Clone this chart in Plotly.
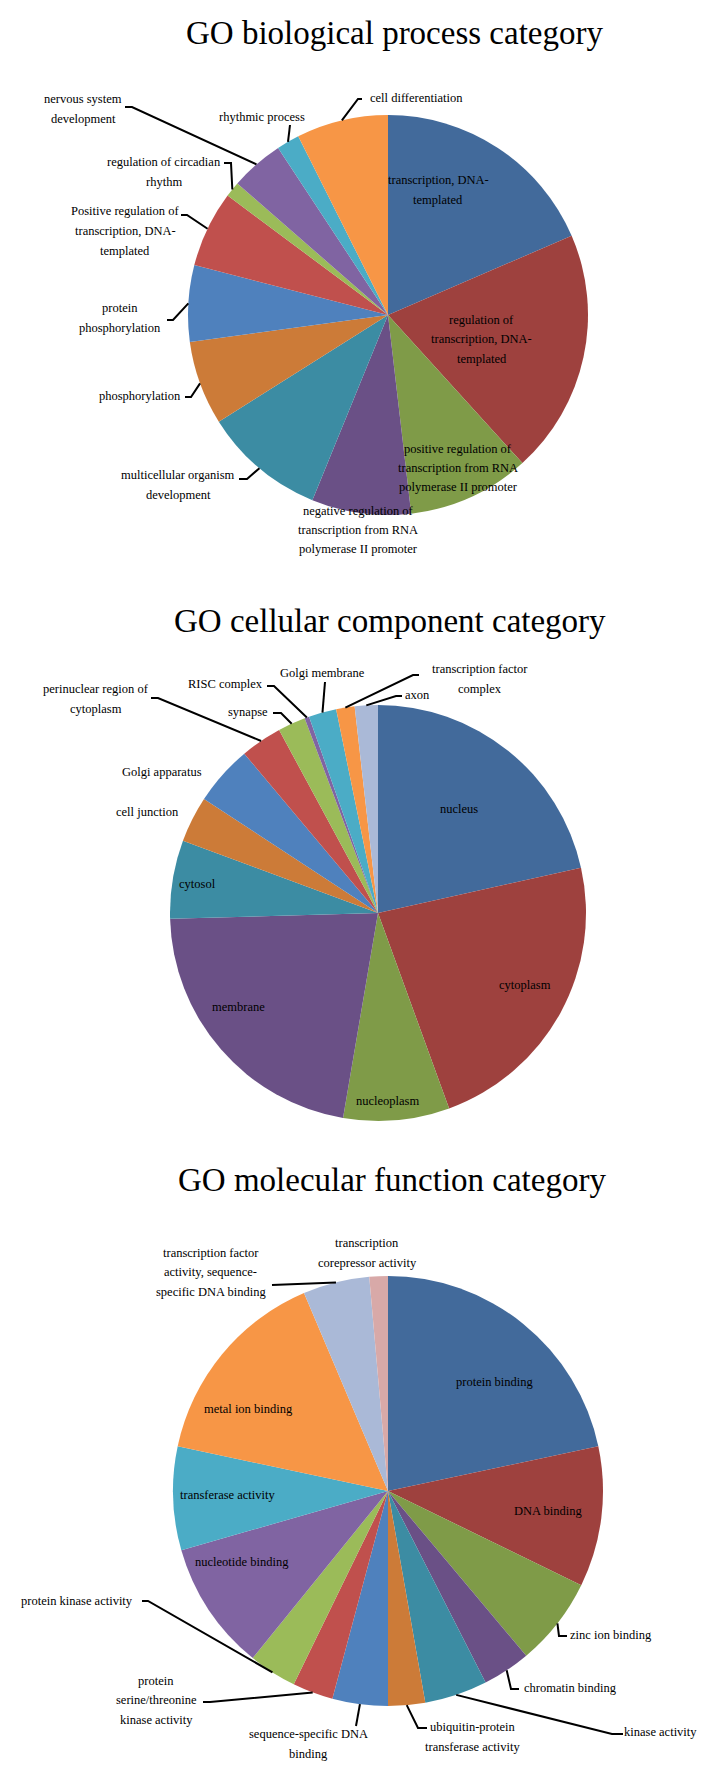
import math
import plotly.graph_objects as go

bp_labels = ["transcription, DNA-templated", "regulation of transcription, DNA-templated",
             "positive regulation of transcription from RNA polymerase II promoter",
             "negative regulation of transcription from RNA polymerase II promoter",
             "multicellular organism development", "phosphorylation", "protein phosphorylation",
             "Positive regulation of transcription, DNA-templated", "regulation of circadian rhythm",
             "nervous system development", "rhythmic process", "cell differentiation"]
bp_counts = [30, 32, 16, 13, 16, 11, 10, 10, 2, 7, 3, 12]

cc_labels = ["nucleus", "cytoplasm", "nucleoplasm", "membrane", "cytosol", "cell junction",
             "Golgi apparatus", "perinuclear region of cytoplasm", "synapse", "RISC complex",
             "Golgi membrane", "transcription factor complex", "axon"]
cc_counts = [60, 64, 23, 61, 17, 10, 13, 9, 6, 1, 6, 4, 5]

mf_labels = ["protein binding", "DNA binding", "zinc ion binding", "chromatin binding",
             "kinase activity", "ubiquitin-protein transferase activity",
             "sequence-specific DNA binding", "protein serine/threonine kinase activity",
             "protein kinase activity", "nucleotide binding", "transferase activity",
             "metal ion binding", "transcription factor activity, sequence-specific DNA binding",
             "transcription corepressor activity"]
mf_counts = [78, 38, 24, 13, 17, 10, 15, 11, 13, 35, 28, 55, 18, 5]

palette = ["#426A9B", "#9E413E", "#7F9B48", "#6A5086", "#3C8CA3", "#CC7B38", "#4F81BD",
           "#C0504D", "#9BBB59", "#8064A2", "#4BACC6", "#F79646", "#AAB9D7", "#D8A9A8"]

FONT = "Liberation Serif"
LS = 19.5  # line spacing of the labels, px

# page size and the default 8px body margin of the html page
PAGE_W, PAGE_H, OFF = 715, 1780, 8
W, H = PAGE_W - OFF, PAGE_H - 2 * OFF

# label placement (page px): lines, centre x, centre y, leader stub (x_text, x_elbow, y) or None
bp_place = {
    bp_labels[0]: (["transcription, DNA-", "templated"], 438, 190, None),
    bp_labels[1]: (["regulation of", "transcription, DNA-", "templated"], 482, 339, None),
    bp_labels[2]: (["positive regulation of", "transcription from RNA", "polymerase II promoter"], 458, 468, None),
    bp_labels[3]: (["negative regulation of", "transcription from RNA", "polymerase II promoter"], 358, 530, None),
    bp_labels[4]: (["multicellular organism", "development"], 178, 485, (239, 247, 479)),
    bp_labels[5]: (["phosphorylation"], 140, 396, (185, 191, 397)),
    bp_labels[6]: (["protein", "phosphorylation"], 120, 318, (167, 173, 320)),
    bp_labels[7]: (["Positive regulation of", "transcription, DNA-", "templated"], 125, 231, (181, 187, 215)),
    bp_labels[8]: (["regulation of circadian", "rhythm"], 164, 172, (224, 231, 163)),
    bp_labels[9]: (["nervous system", "development"], 83, 109, (125, 132, 107)),
    bp_labels[10]: (["rhythmic process"], 262, 117, (290, 290, 125)),
    bp_labels[11]: (["cell differentiation"], 416, 98, (362, 358, 99)),
}
cc_place = {
    cc_labels[0]: (["nucleus"], 459, 809, None),
    cc_labels[1]: (["cytoplasm"], 525, 985, None),
    cc_labels[2]: (["nucleoplasm"], 387, 1101, None),
    cc_labels[3]: (["membrane"], 238, 1007, None),
    cc_labels[4]: (["cytosol"], 197, 884, None),
    cc_labels[5]: (["cell junction"], 147, 812, None),
    cc_labels[6]: (["Golgi apparatus"], 162, 772, None),
    cc_labels[7]: (["perinuclear region of", "cytoplasm"], 96, 699, (151, 158, 698)),
    cc_labels[8]: (["synapse"], 248, 712, (273, 281, 713)),
    cc_labels[9]: (["RISC complex"], 225, 684, (267, 274, 686)),
    cc_labels[10]: (["Golgi membrane"], 322, 673, (325, 325, 682)),
    cc_labels[11]: (["transcription factor", "complex"], 480, 679, (419, 413, 675)),
    cc_labels[12]: (["axon"], 417, 695, (402, 396, 696)),
}
mf_place = {
    mf_labels[0]: (["protein binding"], 494, 1382, None),
    mf_labels[1]: (["DNA binding"], 548, 1511, None),
    mf_labels[2]: (["zinc ion binding"], 611, 1635, (567, 559, 1636)),
    mf_labels[3]: (["chromatin binding"], 570, 1688, (519, 511, 1689)),
    mf_labels[4]: (["kinase activity"], 660, 1732, (623, 612, 1734)),
    mf_labels[5]: (["ubiquitin-protein", "transferase activity"], 472, 1737, (427, 418, 1728)),
    mf_labels[6]: (["sequence-specific DNA", "binding"], 308, 1744, (356, 356, 1726)),
    mf_labels[7]: (["protein", "serine/threonine", "kinase activity"], 156, 1700, (203, 210, 1702)),
    mf_labels[8]: (["protein kinase activity"], 77, 1601, (142, 148, 1601)),
    mf_labels[9]: (["nucleotide binding"], 242, 1562, None),
    mf_labels[10]: (["transferase activity"], 227, 1495, None),
    mf_labels[11]: (["metal ion binding"], 248, 1409, None),
    mf_labels[12]: (["transcription factor", "activity, sequence-", "specific DNA binding"], 211, 1272, (272, 272, 1285)),
    mf_labels[13]: (["transcription", "corepressor activity"], 367, 1253, None),
}

pies = [
    ("GO biological process category", bp_labels, bp_counts, bp_place, (388, 315, 200), (394, 33)),
    ("GO cellular component category", cc_labels, cc_counts, cc_place, (378, 913, 208), (390, 621)),
    ("GO molecular function category", mf_labels, mf_counts, mf_place, (388, 1491, 215), (392, 1180)),
]


def px(x):
    return (x - OFF) / W


def py(y):
    return 1 - (y - OFF) / H


fig = go.Figure()
annotations = []
shapes = []

for title, labels, counts, place, (cx, cy, r), (tx, ty) in pies:
    fig.add_trace(go.Pie(
        labels=labels, values=counts, sort=False, direction="clockwise", rotation=0,
        marker=dict(colors=palette[:len(labels)], line=dict(width=0)),
        textinfo="none", hoverinfo="label+value", showlegend=False,
        domain=dict(x=[px(cx - r), px(cx + r)], y=[py(cy + r), py(cy - r)]),
    ))
    annotations.append(dict(text=title, x=px(tx), y=py(ty), xref="paper", yref="paper",
                            showarrow=False, xanchor="center", yanchor="middle",
                            font=dict(family=FONT, size=33, color="black")))
    total = sum(counts)
    acc = 0
    for lab, v in zip(labels, counts):
        mid = (acc + v / 2) / total * 2 * math.pi
        acc += v
        lines, lx, ly, stub = place[lab]
        n = len(lines)
        for k, line in enumerate(lines):
            annotations.append(dict(text=line, x=px(lx), y=py(ly + (k - (n - 1) / 2) * LS),
                                    xref="paper", yref="paper", showarrow=False,
                                    xanchor="center", yanchor="middle",
                                    font=dict(family=FONT, size=12.5, color="black")))
        if stub:
            ex = cx + r * math.sin(mid)
            ey = cy - r * math.cos(mid)
            x0, x1, sy = stub
            shapes.append(dict(type="path", xref="paper", yref="paper",
                               path=f"M {px(x0)} {py(sy)} L {px(x1)} {py(sy)} L {px(ex)} {py(ey)}",
                               line=dict(color="black", width=2)))

fig.update_layout(width=W, height=H, margin=dict(l=0, r=0, t=0, b=0),
                  paper_bgcolor="white", plot_bgcolor="white",
                  annotations=annotations, shapes=shapes)

fig.write_html("out.html")
